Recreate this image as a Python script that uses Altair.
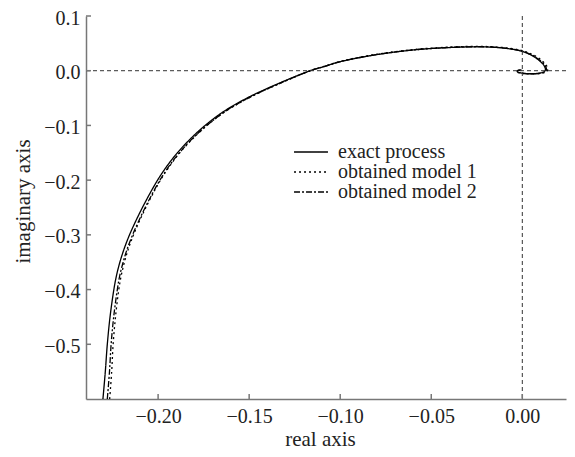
import altair as alt
import pandas as pd

series_names = ["exact process", "obtained model 1", "obtained model 2"]

exact_re = [-0.2303, -0.2290, -0.2279, -0.2264, -0.2243, -0.2229, -0.2210, -0.2186, -0.2157,
            -0.2123, -0.2086, -0.2046, -0.2003, -0.1953, -0.1894, -0.1824, -0.1742, -0.1642,
            -0.1512, -0.1350, -0.1165,
            -0.1092, -0.1000, -0.0860, -0.0725, -0.0580, -0.0450, -0.0300, -0.0176, -0.0080,
            -0.0020, 0.0020, 0.0060, 0.0095, 0.0118, 0.0127, 0.0122, 0.0100, 0.0060, 0.0015,
            -0.0015, -0.0028, -0.0022, -0.0005]
exact_im = [-0.600, -0.550, -0.500, -0.450, -0.400, -0.375, -0.350, -0.325, -0.300,
            -0.275, -0.250, -0.225, -0.200, -0.175, -0.150, -0.125, -0.100, -0.075,
            -0.050, -0.025, 0.000,
            0.0073, 0.0165, 0.0260, 0.0330, 0.0385, 0.0415, 0.0435, 0.0432, 0.0405,
            0.0370, 0.0330, 0.0265, 0.0180, 0.0100, 0.0030, -0.0015, -0.0040, -0.0055, -0.0050,
            -0.0035, -0.0015, 0.0005, 0.0010]

m1_re = [-0.2266, -0.2255, -0.2247, -0.2234, -0.2216, -0.2203, -0.2185, -0.2163, -0.2135,
         -0.2103, -0.2067, -0.2029, -0.1987, -0.1938, -0.1881, -0.1812, -0.1731, -0.1633,
         -0.1504, -0.1344, -0.1161,
         -0.1090, -0.1000, -0.0860, -0.0725, -0.0580, -0.0450, -0.0300, -0.0175, -0.0077,
         -0.0015, 0.0027, 0.0070, 0.0107, 0.0131, 0.0140, 0.0134, 0.0110, 0.0066, 0.0018,
         -0.0016, -0.0031, -0.0024, -0.0005]
m1_im = [-0.600, -0.550, -0.500, -0.450, -0.400, -0.375, -0.350, -0.325, -0.300,
         -0.275, -0.250, -0.225, -0.200, -0.175, -0.150, -0.125, -0.100, -0.075,
         -0.050, -0.025, 0.0004,
         0.0078, 0.0170, 0.0266, 0.0337, 0.0392, 0.0423, 0.0443, 0.0440, 0.0413,
         0.0378, 0.0338, 0.0272, 0.0186, 0.0104, 0.0032, -0.0016, -0.0044, -0.0060, -0.0055,
         -0.0039, -0.0016, 0.0007, 0.0013]

m2_re = [-0.2279, -0.2267, -0.2258, -0.2244, -0.2224, -0.2211, -0.2192, -0.2169, -0.2140,
         -0.2107, -0.2071, -0.2032, -0.1990, -0.1941, -0.1883, -0.1814, -0.1733, -0.1634,
         -0.1505, -0.1345, -0.1162,
         -0.1090, -0.0999, -0.0860, -0.0725, -0.0580, -0.0450, -0.0300, -0.0176, -0.0079,
         -0.0018, 0.0023, 0.0064, 0.0100, 0.0124, 0.0133, 0.0127, 0.0104, 0.0062, 0.0016,
         -0.0015, -0.0029, -0.0023, -0.0005]
m2_im = [-0.600, -0.550, -0.500, -0.450, -0.400, -0.375, -0.350, -0.325, -0.300,
         -0.275, -0.250, -0.225, -0.200, -0.175, -0.150, -0.125, -0.100, -0.075,
         -0.050, -0.025, 0.0001,
         0.0074, 0.0166, 0.0261, 0.0331, 0.0386, 0.0417, 0.0437, 0.0434, 0.0407,
         0.0372, 0.0332, 0.0267, 0.0182, 0.0101, 0.0030, -0.0016, -0.0042, -0.0057, -0.0052,
         -0.0037, -0.0015, 0.0006, 0.0011]

x_ticks = [-0.20, -0.15, -0.10, -0.05, 0.00]
y_ticks = [-0.5, -0.4, -0.3, -0.2, -0.1, 0.0, 0.1]
x_domain = [-0.2396, 0.024]
y_domain = [-0.6, 0.1]
zero_line = [0.0]

rows = []
for name, rr, ii in zip(series_names, [exact_re, m1_re, m2_re], [exact_im, m1_im, m2_im]):
    for k, (a, b) in enumerate(zip(rr, ii)):
        rows.append({"series": name, "re": a, "im": b, "order": k})
df = pd.DataFrame(rows)

W, H = 480, 383
FONT = "Liberation Serif"
AX = "#777777"

xs = alt.Scale(domain=x_domain, nice=False, zero=False)
ys = alt.Scale(domain=y_domain, nice=False, zero=False)

x_axis = alt.Axis(values=x_ticks, format=".2f", title="real axis",
                  titleX=234, titleY=46, titleBaseline="alphabetic", labelPadding=7)
y_axis = alt.Axis(values=y_ticks, format=".1f", title="imaginary axis",
                  titleX=-57, titleY=185, titleBaseline="alphabetic", labelPadding=6,
                  labelOffset=2)

lines = alt.Chart(df).mark_line(color="black", strokeWidth=1.3, clip=True,
                                interpolate="catmull-rom").encode(
    x=alt.X("re:Q", scale=xs, axis=x_axis),
    y=alt.Y("im:Q", scale=ys, axis=y_axis),
    strokeDash=alt.StrokeDash(
        "series:N",
        scale=alt.Scale(domain=series_names, range=[[1, 0], [2, 3], [6, 2, 2, 2]]),
        legend=alt.Legend(title=None, orient="none", legendX=215, legendY=126,
                          symbolType="M-3,0L3,0", symbolSize=128,
                          symbolStrokeWidth=1.5, symbolStrokeColor="black",
                          symbolFillColor="transparent",
                          labelFont=FONT, labelFontSize=20, labelColor="#222222",
                          labelOffset=17, rowPadding=0, padding=0),
    ),
    order="order:Q",
)

zdf = pd.DataFrame({"v": zero_line})
hzero = alt.Chart(zdf).mark_rule(strokeDash=[4, 3], color="#333333", strokeWidth=1).encode(
    y=alt.Y("v:Q", scale=ys, axis=y_axis))
vzero = alt.Chart(zdf).mark_rule(strokeDash=[4, 3], color="#333333", strokeWidth=1).encode(
    x=alt.X("v:Q", scale=xs, axis=x_axis))

xt = alt.Chart(pd.DataFrame({"t": x_ticks})).mark_rule(color=AX, strokeWidth=1.5).encode(
    x=alt.X("t:Q", scale=xs, axis=x_axis), y=alt.value(H), y2=alt.value(H - 5))
yt = alt.Chart(pd.DataFrame({"t": y_ticks})).mark_rule(color=AX, strokeWidth=1.5).encode(
    y=alt.Y("t:Q", scale=ys, axis=y_axis), x=alt.value(0), x2=alt.value(5))

chart = alt.layer(lines, hzero, vzero, xt, yt).properties(
    width=W, height=H,
    autosize=alt.AutoSizeParams(type="none"),
    padding={"left": 78, "top": 8, "right": 1, "bottom": 50},
).configure_view(stroke=None).configure_axis(
    grid=False, ticks=False, domainColor=AX, domainWidth=1.5,
    labelFont=FONT, labelFontSize=20, labelColor="#222222",
    titleFont=FONT, titleFontSize=21, titleFontWeight="normal", titleColor="#222222",
)

chart.save("out.html", embed_options={"renderer": "svg", "actions": False})
